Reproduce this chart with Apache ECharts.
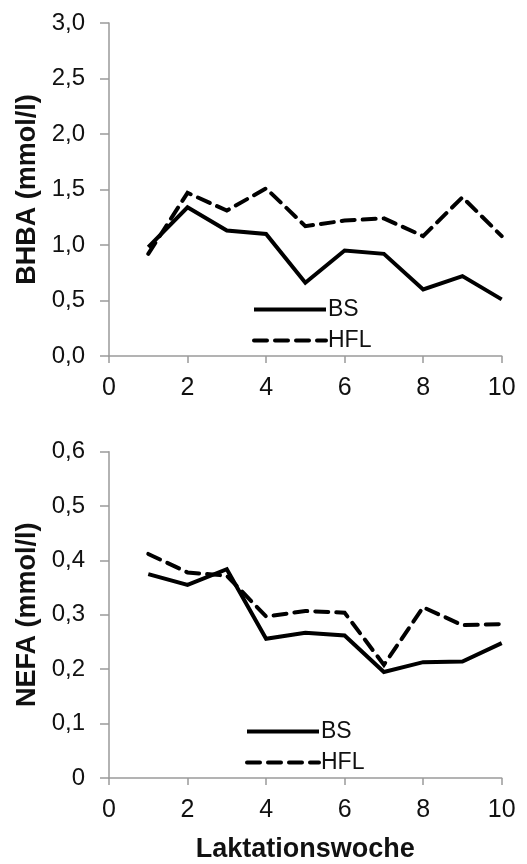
<!DOCTYPE html>
<html>
<head>
<meta charset="utf-8">
<script src="https://cdn.jsdelivr.net/npm/echarts@6/dist/echarts.min.js"></script>
<style>html,body{margin:0;padding:0;background:#fff}#c{width:527px;height:864px}</style>
</head>
<body>
<div id="c"></div>
<script>
var weeks = [1, 2, 3, 4, 5, 6, 7, 8, 9, 10];
var xTicks = [0, 2, 4, 6, 8, 10];
var bhbaBS = [0.98, 1.34, 1.13, 1.10, 0.66, 0.95, 0.92, 0.60, 0.72, 0.51];
var bhbaHFL = [0.92, 1.47, 1.31, 1.51, 1.17, 1.22, 1.24, 1.08, 1.43, 1.08];
var nefaBS = [0.375, 0.355, 0.384, 0.256, 0.267, 0.262, 0.195, 0.213, 0.214, 0.248];
var nefaHFL = [0.412, 0.378, 0.372, 0.297, 0.307, 0.304, 0.208, 0.314, 0.281, 0.283];
var seriesNames = ['BS', 'HFL'];
var yTitles = ['BHBA (mmol/l)', 'NEFA (mmol/l)'];
var xTitle = 'Laktationswoche';

function pairs(ys) { return weeks.map(function (w, i) { return [w, ys[i]]; }); }
var FONT = '"Liberation Sans", Arial, sans-serif';
var TXT = '#111';
var AX = '#9a9a9a';

function xAxis(idx, name) {
  return {
    type: 'value', gridIndex: idx, min: 0, max: 10, interval: 2,
    name: name || '', nameLocation: 'middle', nameGap: 58,
    nameTextStyle: { fontFamily: FONT, fontSize: 27, fontWeight: 'bold', color: TXT },
    axisLine: { show: true, onZero: false, lineStyle: { color: AX, width: 1.5 } },
    axisTick: { show: true, length: 7, lineStyle: { color: AX, width: 1.5 } },
    axisLabel: { fontFamily: FONT, fontSize: 25, color: TXT, margin: 20 },
    splitLine: { show: false }
  };
}
function yAxis(idx, max, interval, name, fmt) {
  return {
    type: 'value', gridIndex: idx, min: 0, max: max, interval: interval,
    name: name, nameLocation: 'middle', nameRotate: 90, nameGap: 68,
    nameTextStyle: { fontFamily: FONT, fontSize: 27, fontWeight: 'bold', color: TXT },
    axisLine: { show: true, lineStyle: { color: AX, width: 1.5 } },
    axisTick: { show: true, length: 9, lineStyle: { color: AX, width: 1.5 } },
    axisLabel: { fontFamily: FONT, fontSize: 24, color: TXT, margin: 24, formatter: fmt },
    splitLine: { show: false }
  };
}
function line(name, data, idx, dashed) {
  return {
    type: 'line', name: name, xAxisIndex: idx, yAxisIndex: idx, data: pairs(data),
    symbol: 'none', silent: true, animation: false,
    lineStyle: { color: '#000', width: 4, type: dashed ? [13, 8] : 'solid', cap: dashed ? 'round' : 'butt', join: 'miter' },
    itemStyle: { color: '#000' }
  };
}
function legend(left, top) {
  return {
    data: seriesNames, orient: 'vertical', left: left, top: top, padding: 0,
    itemWidth: 72, itemHeight: 14, itemGap: 8, itemStyle: { opacity: 0 },
    lineStyle: { width: 4 }, selectedMode: false,
    textStyle: { fontFamily: FONT, fontSize: 23, lineHeight: 23, color: TXT, padding: [0, 0, 0, -3] }
  };
}

var chart = echarts.init(document.getElementById('c'), null, { renderer: 'canvas' });
chart.setOption({
  animation: false,
  backgroundColor: '#fff',
  grid: [
    { left: 109, top: 23, width: 392.7, height: 333 },
    { left: 109, top: 451.7, width: 392.7, height: 330 }
  ],
  xAxis: [xAxis(0), xAxis(1, xTitle)],
  yAxis: [
    yAxis(0, 3, 0.5, yTitles[0], function (v) { return v.toFixed(1).replace('.', ','); }),
    yAxis(1, 0.6, 0.1, yTitles[1], function (v) { return v === 0 ? '0' : v.toFixed(1).replace('.', ','); })
  ],
  legend: [legend(252, 298), legend(245, 720)],
  series: [
    line(seriesNames[0], bhbaBS, 0, false),
    line(seriesNames[1], bhbaHFL, 0, true),
    line(seriesNames[0], nefaBS, 1, false),
    line(seriesNames[1], nefaHFL, 1, true)
  ]
});
</script>
</body>
</html>
